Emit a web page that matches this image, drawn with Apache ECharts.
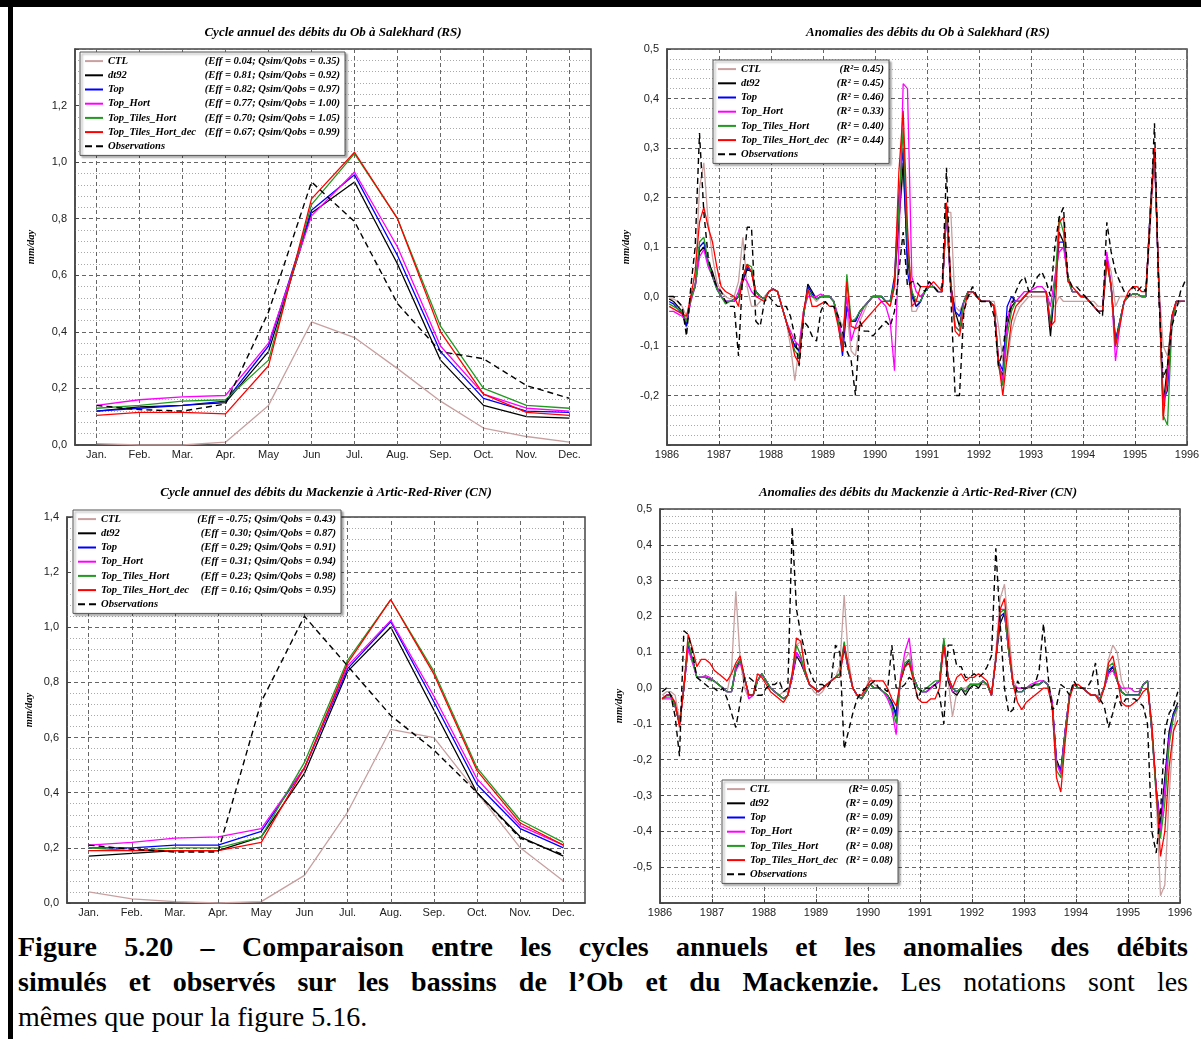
<!DOCTYPE html>
<html><head><meta charset="utf-8">
<script src="https://cdn.jsdelivr.net/npm/echarts@6/dist/echarts.min.js"></script>
<style>
html,body{margin:0;padding:0;background:#fff;}
#wrap{position:relative;width:1201px;height:1039px;overflow:hidden;background:#fff;}
#chart{position:absolute;left:0;top:0;width:1201px;height:925px;}
.bar{position:absolute;background:#000;}
#caption{position:absolute;left:18px;top:929px;width:1170px;font-family:'Liberation Serif','Times New Roman',serif;font-size:28px;line-height:35px;color:#000;}
#caption .j{text-align:justify;text-align-last:justify;}
#caption .l{text-align:left;}
</style></head>
<body><div id="wrap">
<div id="chart"></div>
<div class="bar" style="left:0;top:0;width:1201px;height:7px"></div>
<div class="bar" style="left:8px;top:0;width:5px;height:1039px"></div>
<div id="caption">
<div class="j"><b>Figure 5.20 – Comparaison entre les cycles annuels et les anomalies des débits</b></div>
<div class="j"><b>simulés et observés sur les bassins de l’Ob et du Mackenzie.</b> Les notations sont les</div>
<div class="l">mêmes que pour la figure 5.16.</div>
</div>
</div>
<script>
const months = ['Jan.','Feb.','Mar.','Apr.','May','Jun','Jul.','Aug.','Sep.','Oct.','Nov.','Dec.'];
const seriesNames = ['CTL','dt92','Top','Top_Hort','Top_Tiles_Hort','Top_Tiles_Hort_dec','Observations'];
const colors = ['#c8a0a0','#000000','#0000ff','#ff00ff','#1f9a1f','#ff0000','#000000'];

// ---- Annual cycle, Ob at Salekhard (mm/day)
const obCycleCTL      = [0.005,0.00,0.00,0.01,0.14,0.435,0.38,0.27,0.155,0.06,0.03,0.01];
const obCycleDt92     = [0.12,0.135,0.14,0.15,0.33,0.82,0.93,0.64,0.30,0.14,0.10,0.095];
const obCycleTop      = [0.12,0.13,0.14,0.155,0.35,0.83,0.955,0.67,0.33,0.165,0.12,0.115];
const obCycleTopHort  = [0.14,0.16,0.17,0.175,0.36,0.81,0.965,0.70,0.35,0.18,0.13,0.12];
const obCycleTiles    = [0.13,0.14,0.155,0.16,0.30,0.85,1.03,0.80,0.42,0.20,0.14,0.13];
const obCycleTilesDec = [0.105,0.115,0.115,0.11,0.28,0.87,1.035,0.80,0.40,0.18,0.115,0.105];
const obCycleObs      = [0.14,0.125,0.12,0.145,0.47,0.93,0.79,0.50,0.33,0.305,0.21,0.165];

// ---- Annual cycle, Mackenzie at Artic-Red-River (mm/day)
const mkCycleCTL      = [0.04,0.015,0.005,0.00,0.005,0.10,0.33,0.63,0.60,0.40,0.20,0.08];
const mkCycleDt92     = [0.17,0.18,0.19,0.19,0.24,0.47,0.84,1.00,0.70,0.40,0.24,0.17];
const mkCycleTop      = [0.20,0.20,0.21,0.21,0.26,0.49,0.85,1.02,0.73,0.43,0.27,0.20];
const mkCycleTopHort  = [0.21,0.22,0.235,0.24,0.27,0.49,0.86,1.025,0.75,0.45,0.28,0.21];
const mkCycleTiles    = [0.20,0.19,0.20,0.20,0.24,0.51,0.88,1.10,0.84,0.49,0.30,0.22];
const mkCycleTilesDec = [0.19,0.19,0.19,0.19,0.22,0.49,0.87,1.10,0.83,0.48,0.29,0.21];
const mkCycleObs      = [0.21,0.195,0.185,0.185,0.73,1.04,0.86,0.68,0.555,0.40,0.235,0.175];

// ---- Monthly anomalies, Ob (1986-1995)
const obAnCTL = [
-0.005,-0.005,-0.01,-0.02,-0.04,-0.01,0.03,0.22,0.27,0.15,0.08,0.03,
0.01,0.00,-0.005,0.00,0.03,0.12,0.02,-0.02,-0.02,-0.01,0.00,0.01,
0.015,0.01,-0.02,-0.05,-0.10,-0.17,-0.10,-0.03,0.01,0.00,-0.01,0.00,
0.00,0.00,-0.01,-0.04,-0.06,-0.03,-0.11,-0.12,-0.05,-0.03,-0.01,0.00,
0.00,0.00,-0.01,-0.02,0.02,0.15,0.25,0.10,-0.03,-0.03,-0.01,0.01,
0.02,0.02,0.01,0.01,0.17,0.17,-0.02,-0.03,-0.01,0.00,0.01,0.00,
-0.01,-0.01,-0.01,-0.01,-0.06,-0.13,-0.13,-0.07,-0.04,-0.02,-0.01,0.00,
0.00,0.00,0.00,0.00,-0.02,-0.02,0.00,-0.01,-0.01,-0.01,-0.01,-0.01,
-0.01,-0.01,-0.01,-0.02,-0.02,0.08,0.05,-0.02,0.00,0.00,0.00,0.00,
0.00,0.00,0.00,0.14,0.28,0.03,-0.10,-0.12,-0.05,-0.02,-0.01,-0.01];
const obAnDt92 = [
-0.005,-0.01,-0.02,-0.03,-0.06,0.00,0.02,0.09,0.10,0.07,0.05,0.02,
0.00,-0.01,-0.01,-0.01,0.00,0.03,0.055,0.05,0.01,0.00,-0.005,0.01,
0.015,0.01,-0.02,-0.05,-0.08,-0.10,-0.11,-0.04,0.025,0.01,-0.005,0.00,
0.00,0.00,-0.01,-0.05,-0.10,-0.02,-0.05,-0.05,-0.03,-0.02,-0.01,0.00,
0.00,0.00,-0.01,-0.01,0.03,0.15,0.27,0.08,0.01,-0.02,-0.01,0.01,
0.02,0.02,0.01,0.01,0.17,0.02,-0.03,-0.06,-0.01,0.01,0.01,0.00,
-0.01,-0.01,-0.01,-0.02,-0.14,-0.16,-0.06,-0.02,-0.01,-0.01,0.00,0.01,
0.01,0.01,0.01,0.01,-0.08,0.02,0.13,0.11,0.04,0.01,0.01,0.00,
0.00,-0.01,-0.02,-0.03,-0.03,0.08,0.02,-0.09,-0.05,-0.01,0.00,0.005,
0.005,0.00,0.00,0.17,0.30,0.02,-0.22,-0.14,-0.04,-0.01,-0.01,-0.01];
const obAnTop = [
-0.01,-0.015,-0.025,-0.035,-0.06,-0.005,0.02,0.10,0.11,0.07,0.04,0.015,
0.00,-0.01,-0.01,-0.005,0.00,0.035,0.06,0.05,0.01,0.00,-0.005,0.01,
0.015,0.01,-0.02,-0.05,-0.08,-0.10,-0.11,-0.04,0.02,0.005,-0.005,0.00,
0.00,0.00,-0.01,-0.05,-0.12,-0.02,-0.05,-0.05,-0.03,-0.02,-0.01,0.00,
0.00,0.00,-0.01,-0.01,0.04,0.20,0.30,0.05,0.00,-0.02,-0.01,0.01,
0.02,0.02,0.01,0.01,0.18,0.02,-0.03,-0.04,-0.01,0.01,0.01,0.00,
-0.01,-0.01,-0.01,-0.02,-0.13,-0.15,-0.02,0.00,-0.01,-0.01,0.00,0.01,
0.01,0.01,0.01,0.01,-0.06,0.02,0.11,0.11,0.04,0.01,0.01,0.00,
0.00,-0.01,-0.02,-0.03,-0.03,0.08,0.02,-0.09,-0.05,-0.01,0.00,0.005,
0.005,0.00,0.00,0.17,0.30,0.02,-0.21,-0.19,-0.06,-0.01,-0.01,-0.01];
const obAnTopHort = [
-0.03,-0.03,-0.035,-0.04,-0.05,-0.01,0.02,0.08,0.095,0.06,0.04,0.02,
0.00,-0.01,-0.01,-0.01,0.01,0.04,0.03,0.01,0.00,0.00,-0.005,0.01,
0.015,0.01,-0.02,-0.05,-0.07,-0.09,-0.10,-0.03,0.00,0.00,0.00,0.005,
0.00,0.00,-0.01,-0.04,-0.09,0.00,-0.09,-0.06,-0.04,-0.02,-0.01,0.00,
0.00,-0.01,-0.02,-0.05,-0.15,0.10,0.43,0.42,0.04,0.01,0.00,0.01,
0.03,0.02,0.01,0.01,0.17,0.01,-0.06,-0.07,-0.01,0.01,0.01,0.00,
-0.01,-0.01,-0.01,-0.02,-0.13,-0.17,-0.05,-0.01,-0.01,0.00,0.01,0.01,
0.015,0.02,0.02,0.01,-0.02,0.04,0.09,0.10,0.04,0.01,0.01,0.00,
0.00,-0.01,-0.02,-0.03,-0.03,0.09,0.02,-0.13,-0.06,-0.01,0.00,0.005,
0.005,0.00,0.00,0.17,0.29,0.02,-0.22,-0.17,-0.05,-0.01,-0.01,-0.01];
const obAnTiles = [
-0.015,-0.02,-0.025,-0.03,-0.05,-0.005,0.02,0.11,0.12,0.07,0.04,0.015,
0.00,-0.015,-0.01,-0.005,0.00,0.04,0.065,0.06,0.01,0.00,-0.005,0.01,
0.015,0.01,-0.02,-0.05,-0.08,-0.11,-0.12,-0.04,0.015,0.00,-0.005,0.00,
0.00,0.00,-0.01,-0.05,-0.11,0.045,-0.05,-0.045,-0.03,-0.02,-0.01,0.00,
0.00,0.00,-0.01,-0.01,0.03,0.18,0.34,0.10,0.01,-0.01,-0.01,0.01,
0.02,0.02,0.01,0.01,0.18,0.02,-0.06,-0.07,-0.01,0.01,0.01,0.00,
-0.01,-0.01,-0.01,-0.02,-0.14,-0.18,-0.08,-0.03,-0.01,-0.01,0.00,0.01,
0.01,0.01,0.01,0.01,-0.05,0.02,0.16,0.13,0.04,0.01,0.01,0.00,
0.00,-0.01,-0.02,-0.03,-0.03,0.07,0.02,-0.10,-0.05,-0.01,0.00,0.005,
0.005,0.00,0.00,0.17,0.30,0.02,-0.24,-0.26,-0.06,-0.01,-0.01,-0.01];
const obAnTilesDec = [
-0.02,-0.025,-0.03,-0.035,-0.04,0.00,0.05,0.15,0.18,0.14,0.11,0.06,
0.02,0.01,0.005,0.00,-0.02,0.04,0.065,0.05,0.00,-0.005,-0.01,0.01,
0.015,0.01,-0.02,-0.05,-0.08,-0.12,-0.135,-0.03,0.015,-0.02,-0.02,-0.015,
-0.01,-0.02,-0.02,-0.06,-0.11,0.03,-0.06,-0.065,-0.06,-0.05,-0.04,-0.03,
-0.02,-0.01,-0.01,-0.02,0.02,0.25,0.375,0.14,-0.02,-0.01,0.02,0.02,
0.02,0.03,0.02,0.01,0.19,0.03,-0.07,-0.08,-0.03,0.01,0.01,0.00,
-0.01,-0.01,-0.01,-0.02,-0.13,-0.20,-0.12,-0.05,-0.02,-0.01,0.00,0.01,
0.01,0.01,0.01,0.01,-0.06,-0.05,0.15,0.16,0.03,0.02,0.01,0.00,
0.00,-0.01,-0.02,-0.03,-0.03,0.07,0.02,-0.10,-0.06,-0.01,0.01,0.02,
0.02,0.01,0.01,0.16,0.30,0.03,-0.25,-0.15,-0.04,-0.01,-0.01,-0.01];
const obAnObs = [
0.00,0.00,-0.01,-0.02,-0.08,0.02,0.10,0.33,0.17,0.08,0.04,0.02,
0.01,-0.01,-0.02,-0.02,-0.12,0.05,0.14,0.14,-0.05,-0.06,-0.01,0.00,
-0.01,-0.02,-0.02,-0.02,-0.04,-0.08,-0.14,-0.05,-0.06,-0.08,-0.09,-0.03,
-0.01,-0.02,-0.02,-0.04,-0.07,-0.11,-0.13,-0.20,-0.05,-0.07,-0.07,-0.08,
-0.07,-0.06,-0.05,-0.06,-0.03,0.05,0.13,0.02,0.03,0.03,0.02,0.01,
0.03,0.02,0.01,0.02,0.26,0.00,-0.20,-0.20,-0.03,0.00,0.02,0.00,
-0.01,-0.01,-0.01,-0.04,-0.14,-0.11,-0.04,-0.02,0.01,0.03,0.04,0.01,
0.02,0.04,0.05,0.03,0.00,0.10,0.16,0.18,0.04,0.02,0.02,0.01,
0.00,-0.01,-0.02,-0.03,-0.04,0.15,0.09,0.05,0.03,0.01,0.00,0.02,
0.01,0.02,0.01,0.15,0.35,0.00,-0.165,-0.14,-0.06,-0.03,0.01,0.03];

// ---- Monthly anomalies, Mackenzie (1986-1995)
const mkAnCTL = [
-0.02,-0.01,-0.01,-0.02,-0.09,0.00,0.11,0.08,0.03,0.03,0.03,0.02,
0.02,0.01,0.00,-0.01,0.05,0.27,0.08,0.00,-0.03,-0.02,0.02,0.04,
0.02,0.00,-0.01,-0.02,-0.01,-0.01,0.03,0.12,0.13,0.05,0.01,-0.01,
-0.02,-0.01,0.01,0.02,0.03,0.06,0.26,0.08,0.00,-0.02,-0.03,0.00,
0.03,0.01,0.00,-0.01,-0.02,-0.04,-0.07,0.02,0.08,0.10,0.03,0.00,
-0.01,-0.01,0.00,0.01,0.02,0.13,0.02,-0.08,-0.01,0.00,0.00,0.01,
0.01,0.01,0.01,0.01,-0.02,0.10,0.25,0.29,0.16,0.02,0.00,0.00,
0.00,0.00,0.01,0.01,0.02,0.01,-0.03,-0.21,-0.24,-0.12,-0.02,0.01,
0.00,0.00,-0.01,-0.02,-0.02,-0.02,0.00,0.08,0.12,0.10,0.02,-0.01,
-0.02,-0.02,-0.02,0.01,0.02,-0.10,-0.30,-0.58,-0.55,-0.30,-0.12,-0.05];
const mkAnDt92 = [
-0.03,-0.02,-0.02,-0.05,-0.10,0.00,0.12,0.08,0.03,0.03,0.03,0.025,
0.02,0.01,0.00,-0.01,-0.01,0.05,0.08,0.03,-0.02,-0.02,0.02,0.04,
0.02,0.00,-0.01,-0.02,-0.03,-0.02,0.03,0.09,0.07,0.04,0.01,0.00,
-0.01,0.00,0.01,0.02,0.03,0.04,0.11,0.05,0.00,-0.02,-0.03,-0.01,
0.01,0.00,0.00,-0.01,-0.02,-0.04,-0.07,0.02,0.06,0.07,0.03,0.00,
-0.01,-0.01,0.00,0.01,0.02,0.13,0.02,-0.01,-0.02,0.00,-0.02,0.00,
0.01,0.00,0.02,0.01,-0.02,0.08,0.18,0.21,0.10,0.01,-0.01,-0.01,
0.00,0.005,0.01,0.01,0.02,0.01,-0.04,-0.20,-0.23,-0.12,-0.02,0.01,
0.00,0.00,-0.01,-0.02,-0.02,-0.03,0.00,0.04,0.06,0.02,-0.01,-0.02,
-0.02,-0.02,-0.02,0.01,0.02,-0.12,-0.28,-0.38,-0.25,-0.12,-0.07,-0.04];
const mkAnTop = [
-0.03,-0.02,-0.02,-0.05,-0.10,0.00,0.12,0.08,0.03,0.03,0.03,0.025,
0.02,0.01,0.00,-0.01,-0.01,0.06,0.08,0.03,-0.02,-0.02,0.02,0.04,
0.02,0.00,-0.01,-0.02,-0.03,-0.02,0.03,0.10,0.08,0.04,0.01,0.00,
-0.01,0.00,0.01,0.02,0.03,0.04,0.125,0.05,0.00,-0.02,-0.03,-0.01,
0.01,0.00,0.00,-0.01,-0.02,-0.04,-0.08,0.02,0.06,0.08,0.03,0.00,
-0.01,-0.01,0.00,0.01,0.02,0.13,0.03,0.00,-0.01,0.00,-0.01,0.01,
0.01,0.01,0.02,0.01,-0.02,0.08,0.20,0.21,0.10,0.01,-0.01,-0.01,
0.00,0.005,0.01,0.01,0.02,0.01,-0.04,-0.21,-0.23,-0.12,-0.02,0.01,
0.00,0.00,-0.01,-0.02,-0.02,-0.03,0.00,0.05,0.06,0.02,-0.01,-0.02,
-0.02,-0.02,-0.02,0.01,0.02,-0.12,-0.28,-0.39,-0.27,-0.13,-0.07,-0.05];
const mkAnTopHort = [
-0.03,-0.03,-0.03,-0.05,-0.10,0.00,0.11,0.07,0.03,0.03,0.035,0.03,
0.02,0.01,0.00,-0.01,-0.01,0.05,0.07,0.03,-0.03,-0.02,0.02,0.04,
0.02,0.00,-0.01,-0.02,-0.03,-0.02,0.03,0.10,0.08,0.04,0.01,0.00,
-0.01,0.00,0.01,0.02,0.03,0.04,0.12,0.05,0.00,-0.02,-0.03,-0.01,
0.01,0.00,0.00,-0.01,-0.03,-0.06,-0.13,0.03,0.10,0.14,0.03,0.00,
-0.01,-0.01,0.00,0.01,0.02,0.12,0.03,-0.01,-0.01,0.00,-0.01,0.01,
0.01,0.01,0.02,0.01,-0.02,0.08,0.22,0.22,0.10,0.01,0.00,0.00,
0.00,0.01,0.015,0.02,0.02,0.01,-0.04,-0.21,-0.24,-0.12,-0.02,0.01,
0.00,0.00,-0.01,-0.02,-0.02,-0.03,0.00,0.04,0.05,0.02,0.00,0.00,
0.00,-0.01,-0.01,0.01,0.02,-0.12,-0.28,-0.40,-0.28,-0.14,-0.08,-0.05];
const mkAnTiles = [
-0.03,-0.025,-0.025,-0.05,-0.10,0.00,0.13,0.08,0.03,0.03,0.03,0.025,
0.02,0.01,0.00,-0.01,-0.01,0.06,0.08,0.03,-0.02,-0.02,0.02,0.04,
0.02,0.00,-0.01,-0.02,-0.03,-0.02,0.04,0.12,0.09,0.04,0.01,0.00,
-0.01,0.00,0.01,0.02,0.03,0.04,0.13,0.05,0.00,-0.02,-0.03,-0.01,
0.01,0.00,0.00,-0.01,-0.02,-0.05,-0.10,0.02,0.07,0.08,0.03,0.00,
-0.01,0.00,0.01,0.02,0.02,0.14,0.03,0.00,-0.01,0.00,-0.01,0.01,
0.01,0.01,0.02,0.01,-0.02,0.08,0.21,0.22,0.10,0.01,-0.01,-0.01,
0.00,0.005,0.01,0.01,0.02,0.01,-0.05,-0.23,-0.25,-0.13,-0.02,0.01,
0.00,0.00,-0.01,-0.02,-0.02,-0.03,0.00,0.06,0.07,0.02,-0.01,-0.02,
-0.02,-0.02,-0.02,0.01,0.02,-0.12,-0.30,-0.42,-0.32,-0.16,-0.08,-0.05];
const mkAnTilesDec = [
-0.03,-0.02,-0.02,-0.04,-0.11,0.00,0.15,0.11,0.06,0.08,0.08,0.07,
0.05,0.04,0.03,0.02,0.04,0.07,0.09,0.03,-0.02,-0.02,0.04,0.03,
0.01,-0.01,-0.02,-0.03,-0.04,-0.02,0.04,0.14,0.13,0.05,0.01,0.00,
-0.01,0.00,0.01,0.02,0.03,0.03,0.12,0.06,0.00,-0.02,-0.02,0.00,
0.02,0.02,0.02,0.02,0.00,-0.03,-0.05,0.02,0.06,0.07,0.02,-0.03,
-0.04,-0.04,-0.03,-0.03,0.00,0.12,0.03,0.00,0.03,0.04,0.02,0.03,
0.03,0.04,0.03,0.02,-0.02,0.08,0.22,0.25,0.12,0.01,-0.04,-0.06,
-0.04,-0.03,-0.02,-0.01,0.00,0.00,-0.05,-0.25,-0.29,-0.15,-0.03,0.01,
0.01,0.00,-0.01,-0.02,-0.02,-0.04,0.00,0.07,0.09,0.03,-0.04,-0.05,
-0.05,-0.04,-0.03,-0.01,0.00,-0.10,-0.28,-0.47,-0.40,-0.22,-0.12,-0.09];
const mkAnObs = [
-0.01,0.00,-0.02,-0.08,-0.19,0.16,0.15,0.10,0.03,0.02,0.01,0.00,
0.00,-0.01,0.00,-0.03,-0.07,-0.11,-0.04,0.03,0.03,0.02,-0.02,-0.02,
0.00,0.01,0.01,0.02,-0.01,0.00,0.45,0.22,0.15,0.10,0.05,0.02,
0.01,0.01,0.00,0.02,0.12,0.10,-0.17,-0.12,-0.07,-0.03,-0.01,0.00,
0.01,0.02,0.00,0.00,-0.01,0.12,0.00,0.00,0.01,0.03,0.02,-0.03,
0.00,0.00,0.00,0.01,-0.02,-0.10,0.12,0.12,0.06,0.06,0.03,0.03,
0.04,0.03,0.04,0.06,0.09,0.39,0.18,0.00,-0.07,-0.06,0.02,0.00,
0.00,0.00,0.01,0.05,0.18,0.04,-0.06,-0.05,0.01,0.00,-0.02,0.02,
0.00,0.00,0.00,0.02,0.07,-0.03,-0.05,-0.11,-0.07,-0.02,-0.05,-0.03,
-0.03,-0.03,-0.04,-0.05,-0.10,-0.40,-0.46,-0.35,-0.12,-0.07,-0.05,-0.01];

// ---- legend texts
const obCycleStats = ['(Eff = 0.04; Qsim/Qobs = 0.35)','(Eff = 0.81; Qsim/Qobs = 0.92)','(Eff = 0.82; Qsim/Qobs = 0.97)','(Eff = 0.77; Qsim/Qobs = 1.00)','(Eff = 0.70; Qsim/Qobs = 1.05)','(Eff = 0.67; Qsim/Qobs = 0.99)',''];
const obAnStats = ['(R²= 0.45)','(R² = 0.45)','(R² = 0.46)','(R² = 0.33)','(R² = 0.40)','(R² = 0.44)',''];
const mkCycleStats = ['(Eff = -0.75; Qsim/Qobs = 0.43)','(Eff = 0.30; Qsim/Qobs = 0.87)','(Eff = 0.29; Qsim/Qobs = 0.91)','(Eff = 0.31; Qsim/Qobs = 0.94)','(Eff = 0.23; Qsim/Qobs = 0.98)','(Eff = 0.16; Qsim/Qobs = 0.95)',''];
const mkAnStats = ['(R²= 0.05)','(R² = 0.09)','(R² = 0.09)','(R² = 0.09)','(R² = 0.08)','(R² = 0.08)',''];

const titles = ['Cycle annuel des débits du Ob à Salekhard (RS)','Anomalies des débits du Ob à Salekhard (RS)','Cycle annuel des débits du Mackenzie à Artic-Red-River (CN)','Anomalies des débits du Mackenzie à Artic-Red-River (CN)'];

const firstYear = 1986;
const timeAxis = obAnObs.map((_, i) => firstYear + (i + 0.5) / 12);

const SERIF = "'Liberation Serif','Times New Roman',serif";
const SANS = "'Liberation Sans',Arial,Helvetica,sans-serif";
const AXC = '#444';
const SOLID_ICON = 'rect';
const DASH_ICON = 'path://M0,0H7V2H0Z M11,0H18V2H11Z';

function fmtComma(v){ const r = Math.round(v*10)/10; return (Math.abs(r) < 1e-9 ? 0 : r).toFixed(1).replace('.', ','); }

function yAxisCfg(gi, min, max, interval, hidden, nameGap){
  return {
    type:'value', gridIndex:gi, min:min, max:max, interval:interval,
    name:'mm/day', nameLocation:'middle', nameGap:nameGap, nameRotate:90,
    nameTextStyle:{fontFamily:SERIF, fontStyle:'italic', fontWeight:'bold', fontSize:10.5, color:'#000'},
    axisLine:{show:true, onZero:false, lineStyle:{color:AXC, width:1.5}},
    axisTick:{show:true, inside:true, length:4, lineStyle:{color:AXC}},
    axisLabel:{fontFamily:SANS, fontSize:11, color:'#222', margin:8, showMinLabel:true, showMaxLabel:true,
      formatter: v => (hidden.some(h => Math.abs(h - v) < 1e-6) ? '' : fmtComma(v))},
    splitLine:{show:true, lineStyle:{color:'#666', type:[4,3], width:1}},
    minorTick:{show:false, splitNumber:5},
    minorSplitLine:{show:true, lineStyle:{color:'#aaa', type:[1,2], width:1}}
  };
}
function catAxisCfg(gi){
  return {
    type:'category', gridIndex:gi, data:months, boundaryGap:true,
    axisLine:{show:true, onZero:false, lineStyle:{color:AXC, width:1.5}},
    axisTick:{show:true, inside:true, alignWithLabel:true, length:4, lineStyle:{color:AXC}},
    axisLabel:{fontFamily:SANS, fontSize:11, color:'#222', margin:4, interval:0},
    splitLine:{show:false}
  };
}
function yearAxisCfg(gi){
  return {
    type:'value', gridIndex:gi, min:1986, max:1996, interval:1,
    axisLine:{show:true, onZero:false, lineStyle:{color:AXC, width:1.5}},
    axisTick:{show:true, inside:true, length:4, lineStyle:{color:AXC}},
    axisLabel:{fontFamily:SANS, fontSize:11, color:'#222', margin:4, formatter: v => String(v), showMinLabel:true, showMaxLabel:true},
    splitLine:{show:true, lineStyle:{color:'#666', type:[4,3], width:1}}
  };
}
function mkSeries(gi, arrays, isTime){
  return seriesNames.map((nm, k) => {
    const s = {
      name:nm, type:'line', xAxisIndex:gi, yAxisIndex:gi, symbol:'none', showSymbol:false,
      silent:true, animation:false, z:3 + k, emphasis:{disabled:true},
      lineStyle:{color:colors[k], width:k === 6 ? 1.4 : 1.3, type:k === 6 ? [6,4] : 'solid'},
      itemStyle:{color:colors[k]},
      data: isTime ? arrays[k].map((v, i) => [timeAxis[i], v]) : arrays[k]
    };
    if (!isTime && k === 0) {
      s.markLine = {silent:true, symbol:'none', animation:false, label:{show:false},
        lineStyle:{color:'#666', type:[4,3], width:1},
        data: months.map(m => ({xAxis:m}))};
    }
    return s;
  });
}
function mkLegend(left, top, stats, nameW, statW){
  const base = {fontFamily:SERIF, fontStyle:'italic', fontWeight:'bold', fontSize:10.6, color:'#000', lineHeight:14.2};
  return {
    orient:'vertical', left:left, top:top,
    data: seriesNames.map((nm, k) => ({name:nm, icon: k === 6 ? DASH_ICON : SOLID_ICON})),
    itemWidth:18, itemHeight:2, itemGap:0,
    itemStyle:{borderWidth:0},
    padding:[2,5,2,5], backgroundColor:'#fff', borderColor:'#555', borderWidth:1,
    shadowBlur:2, shadowColor:'rgba(0,0,0,0.35)', shadowOffsetX:2, shadowOffsetY:2,
    selectedMode:false, z:20,
    textStyle:Object.assign({}, base, {rich:{
      n:Object.assign({}, base, {width:nameW}),
      s:Object.assign({}, base, {width:statW, align:'right'})
    }}),
    formatter: name => { const st = stats[seriesNames.indexOf(name)]; return st ? '{n|' + name + '}{s|' + st + '}' : '{n|' + name + '}'; }
  };
}
const titleStyle = {fontFamily:SERIF, fontStyle:'italic', fontWeight:'bold', fontSize:13, color:'#000'};

const chart = echarts.init(document.getElementById('chart'), null, {renderer:'canvas'});
chart.setOption({
  animation:false,
  backgroundColor:'transparent',
  title:[
    {text:titles[0], left:333, top:26, textAlign:'center', textStyle:titleStyle, padding:0},
    {text:titles[1], left:928, top:26, textAlign:'center', textStyle:titleStyle, padding:0},
    {text:titles[2], left:326, top:486, textAlign:'center', textStyle:titleStyle, padding:0},
    {text:titles[3], left:918, top:486, textAlign:'center', textStyle:titleStyle, padding:0}
  ],
  grid:[
    {left:75, top:49, width:516, height:396, show:true, borderColor:AXC, borderWidth:1.5, outerBoundsMode:'none'},
    {left:667, top:49, width:520, height:396, show:true, borderColor:AXC, borderWidth:1.5, outerBoundsMode:'none'},
    {left:67, top:517, width:518, height:386, show:true, borderColor:AXC, borderWidth:1.5, outerBoundsMode:'none'},
    {left:660, top:509, width:520, height:394, show:true, borderColor:AXC, borderWidth:1.5, outerBoundsMode:'none'}
  ],
  xAxis:[catAxisCfg(0), yearAxisCfg(1), catAxisCfg(2), yearAxisCfg(3)],
  yAxis:[
    yAxisCfg(0, 0, 1.4, 0.2, [1.4], 38),
    yAxisCfg(1, -0.3, 0.5, 0.1, [-0.3], 35),
    yAxisCfg(2, 0, 1.4, 0.2, [], 32),
    yAxisCfg(3, -0.6, 0.5, 0.1, [-0.6], 35)
  ],
  legend:[
    mkLegend(80, 52, obCycleStats, 94, 138),
    mkLegend(713, 60, obAnStats, 94, 49),
    mkLegend(73, 510, mkCycleStats, 94, 141),
    mkLegend(722, 780, mkAnStats, 94, 49)
  ],
  series:[].concat(
    mkSeries(0, [obCycleCTL, obCycleDt92, obCycleTop, obCycleTopHort, obCycleTiles, obCycleTilesDec, obCycleObs], false),
    mkSeries(1, [obAnCTL, obAnDt92, obAnTop, obAnTopHort, obAnTiles, obAnTilesDec, obAnObs], true),
    mkSeries(2, [mkCycleCTL, mkCycleDt92, mkCycleTop, mkCycleTopHort, mkCycleTiles, mkCycleTilesDec, mkCycleObs], false),
    mkSeries(3, [mkAnCTL, mkAnDt92, mkAnTop, mkAnTopHort, mkAnTiles, mkAnTilesDec, mkAnObs], true)
  )
});
</script>
</body></html>
